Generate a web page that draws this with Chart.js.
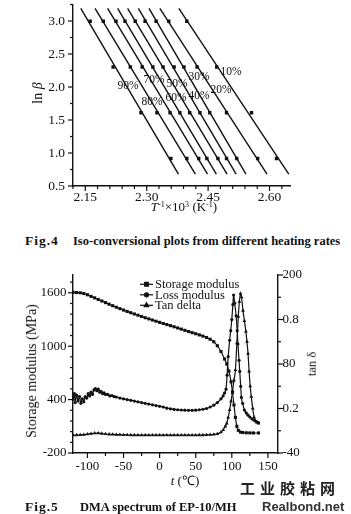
<!DOCTYPE html>
<html><head><meta charset="utf-8"><title>Fig.4 and Fig.5</title>
<script src="https://cdn.jsdelivr.net/npm/chart.js@4.4.1/dist/chart.umd.min.js"></script>
<style>
html,body{margin:0;padding:0;background:#fff;}
body{width:351px;height:514px;position:relative;overflow:hidden;font-family:"Liberation Serif","Times New Roman",serif;color:#111;}
canvas{position:absolute;left:0;}
.t{position:absolute;white-space:nowrap;line-height:1;}
.c{transform:translate(-50%,-50%);}
.r{transform:translate(-50%,-50%) rotate(-90deg);}
.pct{font-size:11.5px;transform:translate(-50%,-50%);}
.cap{font-weight:bold;font-size:12.5px;transform:translateY(-50%);}
.fig{font-size:13.5px;letter-spacing:1px;}
.sp{font-size:0.62em;position:relative;top:-0.5em;}
</style></head>
<body>
<canvas id="c1" width="351" height="225" style="top:0;width:351px;height:225px"></canvas>
<canvas id="c2" width="351" height="235" style="top:255px;width:351px;height:235px"></canvas>

<div class="t r" style="left:38px;top:93px;font-size:14px;">ln <i>β</i></div>
<div class="t c" style="left:184px;top:207px;font-size:13px;"><i>T</i><span class="sp">-1</span>×10<span class="sp">3</span> (K<span class="sp">-1</span>)</div>

<div class="t pct" style="left:231px;top:72px;">10%</div>
<div class="t pct" style="left:221px;top:90px;">20%</div>
<div class="t pct" style="left:199px;top:77px;">30%</div>
<div class="t pct" style="left:199px;top:96px;">40%</div>
<div class="t pct" style="left:177px;top:84px;">50%</div>
<div class="t pct" style="left:176px;top:98px;">60%</div>
<div class="t pct" style="left:154px;top:80px;">70%</div>
<div class="t pct" style="left:152px;top:102px;">80%</div>
<div class="t pct" style="left:128px;top:86px;">90%</div>

<div class="t cap fig" style="left:25px;top:241px;">Fig.4</div>
<div class="t cap" style="left:73px;top:241px;">Iso-conversional plots from different heating rates</div>

<div class="t r" style="left:32px;top:371px;font-size:14px;">Storage modulus (MPa)</div>
<div class="t r" style="left:312px;top:364px;font-size:12.5px;">tan δ</div>
<div class="t c" style="left:185px;top:480px;font-size:13px;"><i>t</i> (℃)</div>

<div class="t" style="left:240px;top:480px;font-family:'Noto Sans CJK SC',sans-serif;font-weight:bold;font-size:15px;letter-spacing:5px;color:#222;">工业胶粘网</div>
<div class="t cap fig" style="left:25px;top:507px;">Fig.5</div>
<div class="t cap" style="left:80px;top:507px;">DMA spectrum of EP-10/MH</div>
<div class="t" style="left:262px;top:500px;font-family:'Liberation Sans',Arial,sans-serif;font-weight:bold;font-size:13px;color:#333;">Realbond.net</div>

<script>
// ---------------- Fig.4 data ----------------
const conversions = ['10%','20%','30%','40%','50%','60%','70%','80%','90%'];
const lnBeta = [2.996, 2.303, 1.609, 0.916];
const invT10 = [2.398, 2.471, 2.556, 2.617];
const invT20 = [2.354, 2.423, 2.495, 2.571];
const invT30 = [2.323, 2.391, 2.454, 2.520];
const invT40 = [2.296, 2.367, 2.430, 2.495];
const invT50 = [2.272, 2.340, 2.405, 2.474];
const invT60 = [2.247, 2.315, 2.381, 2.447];
const invT70 = [2.225, 2.289, 2.357, 2.427];
const invT80 = [2.194, 2.260, 2.325, 2.398];
const invT90 = [2.162, 2.218, 2.286, 2.359];
const invTSeries = [invT10, invT20, invT30, invT40, invT50, invT60, invT70, invT80, invT90];
const fitRange = [3.19, 0.68];
const fig4XTickValues = [2.15, 2.30, 2.45, 2.60];
const fig4XTickLabels = ['2.15', '2.30', '2.45', '2.60'];
const fig4YTickValues = [0.5, 1.0, 1.5, 2.0, 2.5, 3.0];
const fig4YTickLabels = ['0.5', '1.0', '1.5', '2.0', '2.5', '3.0'];

// ---------------- Fig.5 data ----------------
const seriesNames = ['Storage modulus', 'Loss modulus', 'Tan delta'];
const tStorage = [-120,-115,-110,-105,-100,-95,-90,-85,-80,-75,-70,-65,-60,-55,-50,-45,-40,-35,-30,-25,-20,-15,-10,-5,0,5,10,15,20,25,30,35,40,45,50,55,60,65,70,75,80,85,90,93,96,99,101,103,105,107,109,112,115,120,125,130,137];
const storageModulus = [1605,1603,1600,1592,1578,1560,1543,1525,1508,1490,1472,1455,1438,1422,1406,1391,1376,1362,1348,1334,1320,1307,1294,1281,1268,1255,1243,1231,1218,1205,1192,1178,1165,1152,1140,1127,1113,1098,1078,1050,1005,940,856,800,720,600,480,340,200,100,55,35,30,27,26,25,25];
const tLoss = [-120,-118,-117,-115,-113,-111,-109,-107,-105,-103,-101,-99,-97,-95,-93,-91,-89,-87,-85,-83,-81,-79,-77,-75,-72,-69,-66,-63,-60,-55,-50,-45,-40,-35,-30,-25,-20,-15,-10,-5,0,5,10,15,20,25,30,35,40,45,50,55,60,65,70,75,80,85,88,90,92,93.5,95,97,98.5,100,101.5,102.5,104,106,107.5,108.5,110,111,112.3,113.3,115,117.5,120,122.5,125,128,131,134,137];
const lossModulus = [32,40,28,38,30,36,27,33,29,36,34,40,37,42,39,45,47,44,46,42,43,40,41,39,39,37,37.5,36,35.5,34,33,32,31,30,29,28,27,26,25,24,23,22,20.5,19.5,18.8,18.3,18,17.7,17.5,17.5,17.8,18.3,19,20,22,24.5,28,33,37,41,46,65,90,112,125,140,160,173,162,145,125,107,85,70,50,35,27,18,14,11,8.5,6,4,2.5,1];
const tTan = [-120,-115,-110,-105,-100,-95,-90,-85,-80,-75,-70,-65,-60,-55,-50,-45,-40,-35,-30,-25,-20,-15,-10,-5,0,5,10,15,20,25,30,35,40,45,50,55,60,65,70,75,80,85,88,91,93,95,97,99,101,103,105,107,109,110.5,112,113.5,115.5,117.5,119.5,121,122.5,124,125.5,127,129,131,133,135,137];
const tanDelta = [0.020,0.021,0.022,0.024,0.027,0.030,0.033,0.034,0.031,0.028,0.026,0.025,0.024,0.023,0.022,0.022,0.021,0.021,0.020,0.020,0.020,0.020,0.020,0.020,0.020,0.020,0.020,0.020,0.020,0.020,0.020,0.020,0.020,0.020,0.020,0.021,0.021,0.022,0.023,0.025,0.029,0.040,0.055,0.080,0.100,0.140,0.190,0.250,0.320,0.390,0.460,0.640,0.820,0.920,0.975,0.950,0.860,0.790,0.720,0.650,0.570,0.450,0.350,0.280,0.200,0.140,0.115,0.105,0.100];
const fig5XTickValues = [-100, -50, 0, 50, 100, 150];
const fig5XTickLabels = ['-100', '-50', '0', '50', '100', '150'];
const fig5LeftTickValues = [-200, 400, 1000, 1600];
const fig5LeftTickLabels = ['-200', '400', '1000', '1600'];
const fig5RightTickValues = [-40, 20, 80, 140, 200];
const fig5RightTickLabels = ['-40', '0.2', '80', '0.8', '200'];

// ---------------- helpers ----------------
const INK = '#111';
const SERIF = '"Liberation Serif","Times New Roman",serif';

function fitLine(ys, xs) {
  const n = ys.length;
  const my = ys.reduce((a, b) => a + b, 0) / n;
  const mx = xs.reduce((a, b) => a + b, 0) / n;
  let sxy = 0, syy = 0;
  for (let i = 0; i < n; i++) { sxy += (ys[i] - my) * (xs[i] - mx); syy += (ys[i] - my) ** 2; }
  const b = sxy / syy;
  return { a: mx - b * my, b };
}
function tickList(min, max, step) {
  const out = [];
  const n = Math.round((max - min) / step);
  for (let i = 0; i <= n; i++) out.push(+(min + i * step).toFixed(6));
  return out;
}
function labeler(vals, labels) {
  return (v) => { const i = vals.findIndex(m => Math.abs(m - v) < 1e-6); return i >= 0 ? labels[i] : ''; };
}
function fixed(kind, size) {
  return (s) => {
    if (kind === 'w') s.width = size; else s.height = size;
    s.paddingTop = 0; s.paddingBottom = 0; s.paddingLeft = 0; s.paddingRight = 0;
  };
}
function axis(position, min, max, ticks, labelFn, fontSize, padding, fitKind, fitSize) {
  return {
    type: 'linear', position, min, max,
    border: { display: true, color: INK, width: 1.4 },
    grid: { display: false, drawTicks: false },
    afterBuildTicks: (s) => { s.ticks = ticks.map(v => ({ value: v })); },
    afterFit: fixed(fitKind, fitSize),
    ticks: {
      color: INK, font: { family: SERIF, size: fontSize }, autoSkip: false,
      maxRotation: 0, minRotation: 0, padding,
      callback: (v) => labelFn(v)
    }
  };
}

const tickMarks = {
  id: 'tickMarks',
  afterDraw(chart) {
    const ctx = chart.ctx;
    ctx.save();
    ctx.strokeStyle = INK; ctx.lineWidth = 1.2;
    Object.values(chart.scales).forEach(s => {
      if (!s.options.display) return;
      s.ticks.forEach(t => {
        const len = (t.label !== '' && t.label != null) ? 5 : 3;
        const p = s.getPixelForValue(t.value);
        ctx.beginPath();
        if (s.position === 'left') { ctx.moveTo(s.right, p); ctx.lineTo(s.right - len, p); }
        else if (s.position === 'right') { ctx.moveTo(s.left, p); ctx.lineTo(s.left + len, p); }
        else { ctx.moveTo(p, s.top); ctx.lineTo(p, s.top + len); }
        ctx.stroke();
      });
    });
    ctx.restore();
  }
};

const legendRows = {
  id: 'legendRows',
  afterDraw(chart, args, o) {
    if (!o || !o.items) return;
    const ctx = chart.ctx;
    ctx.save();
    ctx.font = '12.5px ' + SERIF;
    ctx.textBaseline = 'middle';
    o.items.forEach((di, k) => {
      const ds = chart.data.datasets[di];
      const y = o.y0 + k * o.dy;
      ctx.strokeStyle = INK; ctx.fillStyle = INK; ctx.lineWidth = 1.2;
      ctx.beginPath(); ctx.moveTo(o.x0, y); ctx.lineTo(o.x1, y); ctx.stroke();
      Chart.helpers.drawPoint(ctx, { pointStyle: ds.pointStyle, radius: ds.pointRadius + 0.4, rotation: 0, borderWidth: 1 }, (o.x0 + o.x1) / 2, y);
      ctx.fillStyle = INK;
      ctx.fillText(ds.label, o.textX, y + 0.5);
    });
    ctx.restore();
  }
};

// ---------------- Fig.4 chart ----------------
const ds1 = [];
invTSeries.forEach((xs, k) => {
  const f = fitLine(lnBeta, xs);
  ds1.push({ label: conversions[k] + ' fit', data: fitRange.map(y => ({ x: f.a + f.b * y, y })),
    showLine: true, borderColor: INK, borderWidth: 1.4, pointRadius: 0 });
  ds1.push({ label: conversions[k], data: xs.map((x, i) => ({ x, y: lnBeta[i] })),
    showLine: false, pointStyle: 'rect', pointRadius: 2.4, backgroundColor: INK, borderColor: INK, borderWidth: 0 });
});

new Chart(document.getElementById('c1'), {
  type: 'scatter',
  data: { datasets: ds1 },
  plugins: [tickMarks],
  options: {
    responsive: false, animation: false, events: [],
    layout: { padding: { left: 0, top: 4.5, right: 61, bottom: 0 } },
    plugins: { legend: { display: false }, tooltip: { enabled: false } },
    scales: {
      x: axis('bottom', 2.12, 2.65, tickList(2.12, 2.63, 0.03), labeler(fig4XTickValues, fig4XTickLabels), 13.5, 3, 'h', 39),
      y: axis('left', 0.5, 3.25, tickList(0.5, 3.25, 0.25), labeler(fig4YTickValues, fig4YTickLabels), 13.5, 8, 'w', 73)
    }
  }
});

// ---------------- Fig.5 chart ----------------
const line = (label, ts, vs, axisId, style, r) => ({
  label, yAxisID: axisId, data: ts.map((t, i) => ({ x: t, y: vs[i] })),
  showLine: true, cubicInterpolationMode: 'monotone', borderColor: INK, borderWidth: 1.2,
  pointStyle: style, pointRadius: r, backgroundColor: INK, pointBorderColor: INK, pointBorderWidth: 0
});

new Chart(document.getElementById('c2'), {
  type: 'scatter',
  data: { datasets: [
    line(seriesNames[0], tStorage, storageModulus, 'y', 'rect', 2.2),
    line(seriesNames[1], tLoss, lossModulus, 'y2', 'circle', 1.6),
    line(seriesNames[2], tTan, tanDelta, 'y3', 'triangle', 2.2)
  ] },
  plugins: [tickMarks, legendRows],
  options: {
    responsive: false, animation: false, events: [],
    layout: { padding: { left: 0, top: 20, right: 0, bottom: 0 } },
    plugins: {
      legend: { display: false }, tooltip: { enabled: false },
      legendRows: { items: [0, 1, 2], x0: 140, x1: 153, textX: 155, y0: 29.3, dy: 10.5 }
    },
    scales: {
      x: axis('bottom', -120, 164, tickList(-100, 150, 25), labeler(fig5XTickValues, fig5XTickLabels), 13, 6, 'h', 37),
      y: axis('left', -200, 1800, tickList(-200, 1720, 120), labeler(fig5LeftTickValues, fig5LeftTickLabels), 13, 6.5, 'w', 73),
      y2: axis('right', -40, 200, tickList(-40, 200, 30), labeler(fig5RightTickValues, fig5RightTickLabels), 13, 4.5, 'w', 73),
      y3: { type: 'linear', display: false, min: -0.1, max: 1.1 }
    }
  }
});
</script>
</body></html>
